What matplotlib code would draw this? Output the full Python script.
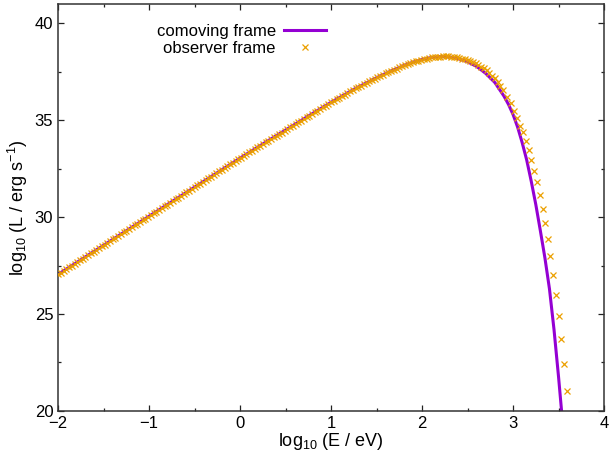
import matplotlib.pyplot as plt
from matplotlib.ticker import MultipleLocator

plt.rcParams["font.family"] = ["Liberation Sans", "DejaVu Sans"]
plt.rcParams["mathtext.default"] = "regular"

# comoving frame spectrum (log10 E/eV, log10 L/erg s^-1)
comoving_x = [-2.0, -1.5, -1.0, -0.5, 0.0, 0.25, 0.5, 0.75, 1.0, 1.25,
              1.5, 1.6, 1.7, 1.8, 1.9, 2.0, 2.1, 2.2, 2.3, 2.4,
              2.5, 2.6, 2.7, 2.8, 2.9, 2.95, 3.0, 3.05, 3.1, 3.15,
              3.2, 3.25, 3.3, 3.35, 3.4, 3.45, 3.5, 3.535]
comoving_y = [27.05, 28.55, 30.05, 31.55, 33.05, 33.78, 34.50, 35.22, 35.93, 36.60,
              37.20, 37.42, 37.63, 37.83, 38.00, 38.14, 38.24, 38.29, 38.27, 38.18,
              38.02, 37.78, 37.42, 36.95, 36.25, 35.82, 35.30, 34.65, 33.85, 32.95,
              31.85, 30.65, 29.30, 27.90, 26.30, 24.20, 21.75, 19.90]

# observer frame spectrum, one value per cross
observer_x = [
    -2.00, -1.97, -1.94, -1.91, -1.88, -1.85, -1.82, -1.79, -1.76, -1.73,
    -1.70, -1.67, -1.64, -1.61, -1.58, -1.55, -1.52, -1.49, -1.46, -1.43,
    -1.40, -1.37, -1.34, -1.31, -1.28, -1.25, -1.22, -1.19, -1.16, -1.13,
    -1.10, -1.07, -1.04, -1.01, -0.98, -0.95, -0.92, -0.89, -0.86, -0.83,
    -0.80, -0.77, -0.74, -0.71, -0.68, -0.65, -0.62, -0.59, -0.56, -0.53,
    -0.50, -0.47, -0.44, -0.41, -0.38, -0.35, -0.32, -0.29, -0.26, -0.23,
    -0.20, -0.17, -0.14, -0.11, -0.08, -0.05, -0.02, 0.01, 0.04, 0.07,
    0.10, 0.13, 0.16, 0.19, 0.22, 0.25, 0.28, 0.31, 0.34, 0.37,
    0.40, 0.43, 0.46, 0.49, 0.52, 0.55, 0.58, 0.61, 0.64, 0.67,
    0.70, 0.73, 0.76, 0.79, 0.82, 0.85, 0.88, 0.91, 0.94, 0.97,
    1.00, 1.03, 1.06, 1.09, 1.12, 1.15, 1.18, 1.21, 1.24, 1.27,
    1.30, 1.33, 1.36, 1.39, 1.42, 1.45, 1.48, 1.51, 1.54, 1.57,
    1.60, 1.63, 1.66, 1.69, 1.72, 1.75, 1.78, 1.81, 1.84, 1.87,
    1.90, 1.93, 1.96, 1.99, 2.02, 2.05, 2.08, 2.11, 2.14, 2.17,
    2.20, 2.23, 2.26, 2.29, 2.32, 2.35, 2.38, 2.41, 2.44, 2.47,
    2.50, 2.53, 2.56, 2.59, 2.62, 2.65, 2.68, 2.71, 2.74, 2.77,
    2.80, 2.83, 2.86, 2.89,
    2.935, 2.975, 3.012, 3.048, 3.081, 3.112, 3.142, 3.170, 3.199, 3.229,
    3.263, 3.295, 3.324, 3.350, 3.381, 3.410, 3.440, 3.472, 3.503, 3.532,
    3.563, 3.593]
observer_y = [
    27.05, 27.14, 27.23, 27.32, 27.41, 27.50, 27.59, 27.68, 27.77, 27.86,
    27.95, 28.04, 28.13, 28.22, 28.31, 28.40, 28.49, 28.58, 28.67, 28.76,
    28.85, 28.94, 29.03, 29.12, 29.21, 29.30, 29.39, 29.48, 29.57, 29.66,
    29.75, 29.84, 29.93, 30.02, 30.11, 30.20, 30.29, 30.38, 30.47, 30.56,
    30.65, 30.74, 30.83, 30.92, 31.01, 31.10, 31.19, 31.28, 31.37, 31.46,
    31.55, 31.64, 31.73, 31.82, 31.91, 32.00, 32.09, 32.18, 32.27, 32.36,
    32.45, 32.54, 32.63, 32.72, 32.81, 32.90, 32.99, 33.08, 33.17, 33.25,
    33.34, 33.42, 33.51, 33.60, 33.68, 33.77, 33.86, 33.94, 34.03, 34.12,
    34.20, 34.29, 34.37, 34.46, 34.55, 34.63, 34.72, 34.81, 34.89, 34.98,
    35.07, 35.15, 35.24, 35.33, 35.41, 35.50, 35.58, 35.67, 35.76, 35.84,
    35.93, 36.01, 36.09, 36.17, 36.25, 36.33, 36.41, 36.49, 36.57, 36.65,
    36.72, 36.79, 36.86, 36.94, 37.01, 37.08, 37.15, 37.22, 37.29, 37.35,
    37.42, 37.48, 37.55, 37.61, 37.67, 37.73, 37.79, 37.85, 37.90, 37.95,
    38.00, 38.04, 38.08, 38.13, 38.16, 38.19, 38.22, 38.25, 38.26, 38.28,
    38.29, 38.30, 38.30, 38.30, 38.29, 38.27, 38.25, 38.23, 38.19, 38.16,
    38.12, 38.06, 38.00, 37.94, 37.86, 37.77, 37.68, 37.58, 37.44, 37.31,
    37.18, 36.98, 36.78, 36.59,
    36.22, 35.88, 35.47, 35.12, 34.73, 34.38, 33.92, 33.49, 32.97, 32.40,
    31.80, 31.16, 30.40, 29.68, 28.87, 27.97, 27.03, 25.98, 24.91, 23.71,
    22.41, 21.02]

fig = plt.figure(figsize=(6.12, 4.55), dpi=100)
ax = fig.add_axes([0.095, 0.097, 0.892, 0.894])

ax.plot(comoving_x, comoving_y, color="#9400d3", lw=2.2, label="comoving frame", zorder=2)
ax.plot(observer_x, observer_y, ls="none", marker="x", ms=4.6, mew=0.9,
        color="#eba000", label="observer frame", zorder=3)

ax.set_xlim(-2, 4)
ax.set_ylim(20, 41)
ax.xaxis.set_major_locator(MultipleLocator(1))
ax.xaxis.set_minor_locator(MultipleLocator(0.5))
ax.yaxis.set_major_locator(MultipleLocator(5))
ax.yaxis.set_minor_locator(MultipleLocator(2.5))
ax.tick_params(which="both", direction="in", top=True, right=True,
               labelsize=12, width=0.9, colors="#222222", labelcolor="black")
ax.tick_params(which="major", length=4.0)
ax.tick_params(which="minor", length=2.3)
for s in ax.spines.values():
    s.set_linewidth(1.1)
    s.set_color("#333333")

ax.set_xlabel("log$_{10}$ (E / eV)", fontsize=13, labelpad=0)
ax.set_ylabel("log$_{10}$ (L / erg s$^{-1}$)", fontsize=13, labelpad=3)

ax.legend(loc="upper right", bbox_to_anchor=(0.49, 0.952), frameon=False,
          markerfirst=False, fontsize=12, handlelength=2.5, handletextpad=0.5,
          borderpad=0, borderaxespad=0, labelspacing=0.12)

fig.savefig("out.png", dpi=100)
